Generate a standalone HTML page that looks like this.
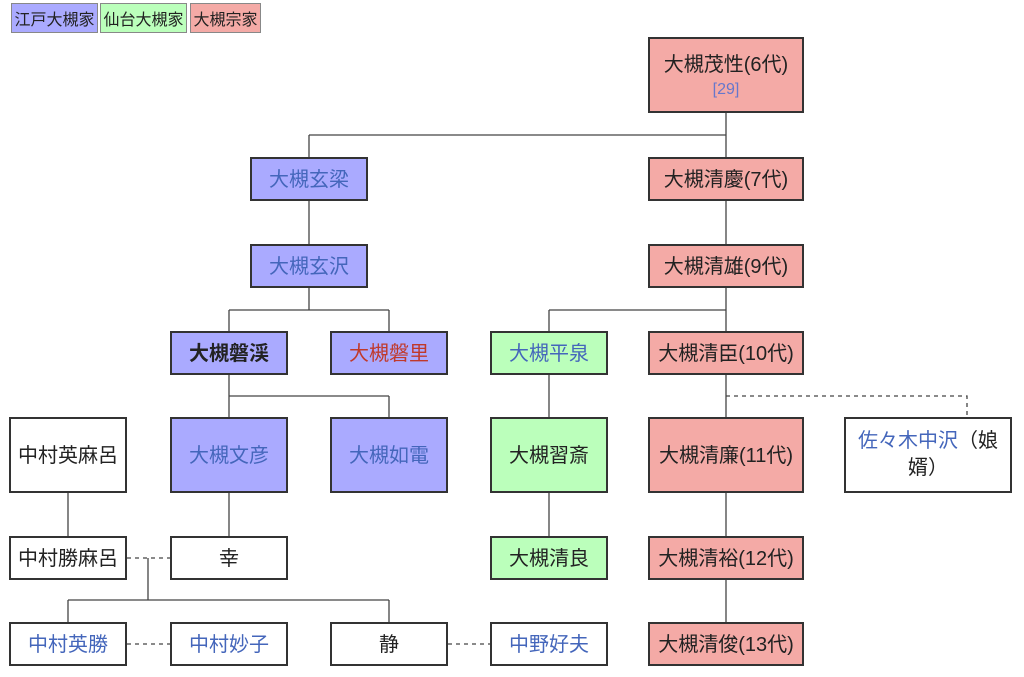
<!DOCTYPE html>
<html><head><meta charset="utf-8"><style>
body{margin:0;width:1024px;height:677px;background:#fff;position:relative;overflow:hidden;font-family:"Liberation Sans","Noto Sans CJK JP",sans-serif;}
.b{position:absolute;box-sizing:border-box;border:2px solid #333;display:flex;align-items:center;justify-content:center;text-align:center;font-size:20px;color:#222;line-height:1.35;padding-top:2px}
.bl{background:#aaaaff}.gr{background:#bbffbb}.pk{background:#f4aaa6}.wh{background:#fff}
.ln{color:#4466bb}.rd{color:#c0392b}
.lg{position:absolute;top:3px;height:30px;box-sizing:border-box;border:1px solid #888;font-size:16px;display:flex;align-items:center;justify-content:center;color:#222}
svg{position:absolute;left:0;top:0}
</style></head><body>
<svg width="1024" height="677" stroke="#444" stroke-width="1.3" fill="none">
<path d="M726 113V157M309 135H726M309 135V157M309 201V244M309 288V310M229 310H389M229 310V331M389 310V331M229 374V417M229 396H389M389 396V417M726 201V244M726 288V331M549 310H726M549 310V331M549 374V417M549 493V536M726 374V417M726 493V536M726 580V622M68 493V536M229 493V536M148 558V600M68 600H389M68 600V622M389 600V622"/>
<path stroke-dasharray="4,4" d="M726 396H967V417M127 558H170M127 644H170M448 644H490"/>
</svg>
<div class="lg" style="left:11px;width:87px;background:#aaaaff">江戸大槻家</div>
<div class="lg" style="left:100px;width:87px;background:#bbffbb">仙台大槻家</div>
<div class="lg" style="left:190px;width:71px;background:#f4aaa6">大槻宗家</div>

<div class="b pk" style="left:648px;top:37px;width:156px;height:76px;flex-direction:column">大槻茂性(6代)<span style="font-size:16px;color:#6677cc">[29]</span></div>
<div class="b bl ln" style="left:250px;top:157px;width:118px;height:44px">大槻玄梁</div>
<div class="b pk" style="left:648px;top:157px;width:156px;height:44px">大槻清慶(7代)</div>
<div class="b bl ln" style="left:250px;top:244px;width:118px;height:44px">大槻玄沢</div>
<div class="b pk" style="left:648px;top:244px;width:156px;height:44px">大槻清雄(9代)</div>

<div class="b bl" style="left:170px;top:331px;width:118px;height:44px;font-weight:bold">大槻磐渓</div>
<div class="b bl rd" style="left:330px;top:331px;width:118px;height:44px">大槻磐里</div>
<div class="b gr ln" style="left:490px;top:331px;width:118px;height:44px">大槻平泉</div>
<div class="b pk" style="left:648px;top:331px;width:156px;height:44px">大槻清臣(10代)</div>

<div class="b wh" style="left:9px;top:417px;width:118px;height:76px">中村英麻呂</div>
<div class="b bl ln" style="left:170px;top:417px;width:118px;height:76px">大槻文彦</div>
<div class="b bl ln" style="left:330px;top:417px;width:118px;height:76px">大槻如電</div>
<div class="b gr" style="left:490px;top:417px;width:118px;height:76px">大槻習斎</div>
<div class="b pk" style="left:648px;top:417px;width:156px;height:76px">大槻清廉(11代)</div>
<div class="b wh" style="left:844px;top:417px;width:168px;height:76px;padding:0 8px"><span><span class="ln">佐々木中沢</span>（娘婿）</span></div>

<div class="b wh" style="left:9px;top:536px;width:118px;height:44px">中村勝麻呂</div>
<div class="b wh" style="left:170px;top:536px;width:118px;height:44px">幸</div>
<div class="b gr" style="left:490px;top:536px;width:118px;height:44px">大槻清良</div>
<div class="b pk" style="left:648px;top:536px;width:156px;height:44px">大槻清裕(12代)</div>

<div class="b wh ln" style="left:9px;top:622px;width:118px;height:44px">中村英勝</div>
<div class="b wh ln" style="left:170px;top:622px;width:118px;height:44px">中村妙子</div>
<div class="b wh" style="left:330px;top:622px;width:118px;height:44px">静</div>
<div class="b wh ln" style="left:490px;top:622px;width:118px;height:44px">中野好夫</div>
<div class="b pk" style="left:648px;top:622px;width:156px;height:44px">大槻清俊(13代)</div>
</body></html>
